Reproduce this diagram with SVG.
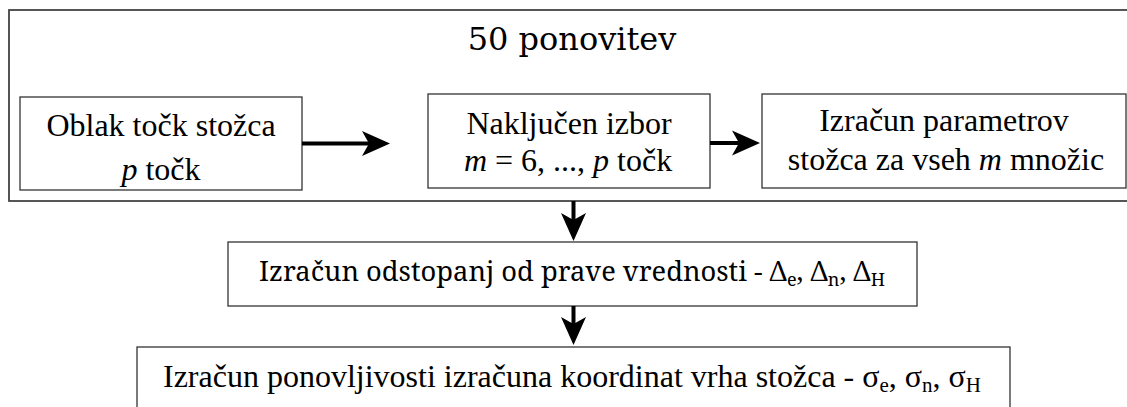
<svg xmlns="http://www.w3.org/2000/svg" width="1127" height="407" viewBox="0 0 1127 407">
<style>
.box{fill:#fff;stroke:#333;stroke-width:1.3}
.outer{fill:#fff;stroke:#444;stroke-width:1.8}
.t{font-size:32px;fill:#000;text-anchor:middle}
.i{font-style:italic}
.s{font-size:21px}
.c{stroke:#000;stroke-width:4;fill:none;marker-end:url(#ah)}
</style>
<defs>
<marker id="ah" markerUnits="userSpaceOnUse" markerWidth="30" markerHeight="28" refX="8" refY="12.5" orient="auto" overflow="visible">
<path d="M0,0 L28,12.5 L0,25 L7,12.5 Z" fill="#000"/>
</marker>
</defs>
<rect width="1127" height="407" fill="#fff"/>
<g id="loop">
<rect class="outer" x="9" y="10" width="1130" height="191"/>
<text class="t" x="572" y="50" font-family="DejaVu Serif" font-size="26">50 ponovitev</text>
</g>
<g id="oblak">
<rect class="box" x="20" y="97" width="282" height="93"/>
<text class="t" x="161" y="136" font-family="Times New Roman">Oblak točk stožca</text>
<text class="t" x="161" y="180" font-family="Times New Roman"><tspan class="i">p</tspan> točk</text>
</g>
<g id="izbor">
<rect class="box" x="428" y="94" width="282" height="94"/>
<text class="t" x="569" y="134" font-family="Liberation Serif">Naključen izbor</text>
<text class="t" x="568" y="171" font-family="Liberation Serif" xml:space="preserve"><tspan class="i">m</tspan> = 6, ..., <tspan class="i">p</tspan> točk</text>
</g>
<g id="parametri">
<rect class="box" x="762" y="94" width="364" height="94"/>
<text class="t" x="944" y="131" font-family="serif">Izračun parametrov</text>
<text class="t" x="946" y="170" font-family="serif">stožca za vseh <tspan class="i">m</tspan> množic</text>
</g>
<g id="odstopanja">
<rect class="box" x="228" y="242" width="689" height="64"/>
<text class="t" x="572" y="281" font-family="Noto Serif" style="font-size:27.3px">Izračun odstopanj od prave vrednosti - Δ<tspan style="font-size:18px" dy="5">e</tspan><tspan dy="-5">, Δ</tspan><tspan style="font-size:18px" dy="5">n</tspan><tspan dy="-5">, Δ</tspan><tspan style="font-size:18px" dy="5">H</tspan></text>
</g>
<g id="ponovljivost">
<rect class="box" x="137" y="347" width="873" height="80"/>
<text class="t" x="572" y="387" font-family="serif">Izračun ponovljivosti izračuna koordinat vrha stožca - σ<tspan class="s" dy="5">e</tspan><tspan dy="-5">, σ</tspan><tspan class="s" dy="5">n</tspan><tspan dy="-5">, σ</tspan><tspan class="s" dy="5">H</tspan></text>
</g>
<g id="connectors">
<line class="c" x1="302" y1="143.5" x2="370" y2="143.5"/>
<line class="c" x1="710" y1="143" x2="740" y2="143"/>
<line class="c" x1="573.5" y1="201" x2="573.5" y2="221"/>
<line class="c" x1="573.5" y1="306" x2="573.5" y2="325"/>
</g>
</svg>
